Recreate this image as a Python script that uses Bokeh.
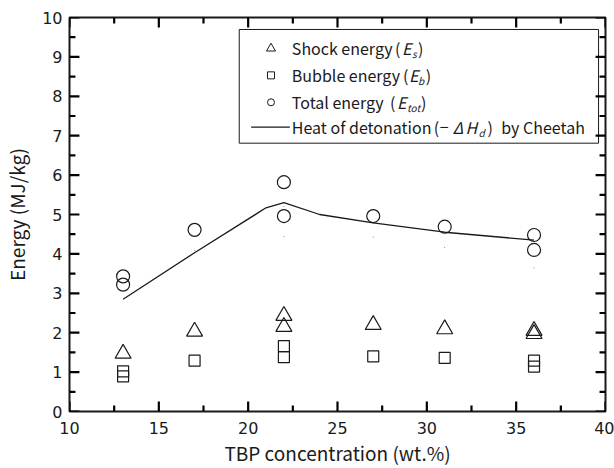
from bokeh.plotting import figure
from bokeh.models import Range1d, FixedTicker, LinearAxis, Label
from bokeh.embed import file_html
from bokeh.resources import INLINE

# ---- data ----
x_shock = [13, 17, 22, 22, 27, 31, 36, 36]
y_shock = [1.47, 2.03, 2.43, 2.15, 2.20, 2.09, 2.05, 1.97]
x_bubble = [13, 13, 17, 22, 22, 27, 31, 36, 36]
y_bubble = [1.02, 0.89, 1.29, 1.66, 1.38, 1.40, 1.36, 1.29, 1.14]
x_total = [13, 13, 17, 22, 22, 27, 31, 36, 36]
y_total = [3.43, 3.22, 4.61, 5.82, 4.96, 4.96, 4.69, 4.48, 4.10]
x_heat = [13, 17, 21, 22, 24, 27, 31, 36]
y_heat = [2.85, 4.03, 5.17, 5.30, 5.00, 4.79, 4.55, 4.35]
x_dot = [17, 22, 22, 27, 31, 36]
y_dot = [4.09, 5.20, 4.44, 4.43, 4.16, 3.65]
x_ticks = [10, 15, 20, 25, 30, 35, 40]
y_ticks = [0, 1, 2, 3, 4, 5, 6, 7, 8, 9, 10]
x_label = "TBP concentration (wt.%)"
y_label = "Energy (MJ/kg)"

FONT = "Noto Sans CJK JP"
NUMFONT = "DejaVu Sans"
INK = "#1a1a1a"
TICK = "black"

W, H = 614, 468
L, R, T, B = 65, 9, 17, 56
X0, X1, Y0, Y1 = 10, 40, 0, 10

p = figure(width=W, height=H, output_backend="svg", toolbar_location=None,
           x_range=Range1d(X0, X1), y_range=Range1d(Y0, Y1),
           min_border_left=L, min_border_right=R, min_border_top=T, min_border_bottom=B,
           x_axis_location=None, y_axis_location=None)
p.grid.visible = False
p.outline_line_color = INK
p.outline_line_width = 2
p.background_fill_color = "white"
p.border_fill_color = "white"

fw = W - L - R
fh = H - T - B
def dx(px):
    return X0 + (px - L) / fw * (X1 - X0)
def dy(py):
    return Y1 - (py - T) / fh * (Y1 - Y0)

x_minor = [v + 2.5 for v in x_ticks[:-1]]
y_minor = [v + 0.5 for v in y_ticks[:-1]]

def style(ax):
    ax.axis_line_color = None
    ax.major_tick_line_color = None
    ax.minor_tick_line_color = None
    ax.major_tick_in = 0
    ax.major_tick_out = 0
    ax.minor_tick_in = 0
    ax.minor_tick_out = 0
    ax.major_label_text_font = NUMFONT
    ax.major_label_text_font_size = "16px"
    ax.major_label_text_color = INK
    ax.axis_label_text_font = FONT
    ax.axis_label_text_font_size = "19px"
    ax.axis_label_text_font_style = "normal"
    ax.axis_label_text_color = INK

bx = LinearAxis(ticker=FixedTicker(ticks=x_ticks), axis_label=x_label)
style(bx); bx.major_label_standoff = 10; bx.axis_label_standoff = 2
ly = LinearAxis(ticker=FixedTicker(ticks=y_ticks), axis_label=y_label)
style(ly); ly.major_label_standoff = 7; ly.axis_label_standoff = 9
p.add_layout(bx, "below")
p.add_layout(ly, "left")

# ---- legend box (drawn first so markers sit on top) ----
p.quad(left=[dx(236)], right=[dx(598)], top=[dy(29)], bottom=[dy(143)],
       fill_color="white", line_color=INK, line_width=1)

# ---- inward ticks on all four sides ----
hM, hm = 10 / fw * (X1 - X0), 6 / fw * (X1 - X0)
vM, vm = 10 / fh * (Y1 - Y0), 6 / fh * (Y1 - Y0)
for ticks, tl in ((x_ticks, vM), (x_minor, vm)):
    p.segment(x0=ticks, y0=[Y0] * len(ticks), x1=ticks, y1=[Y0 + tl] * len(ticks),
              line_color=TICK, line_width=2.2)
    p.segment(x0=ticks, y0=[Y1] * len(ticks), x1=ticks, y1=[Y1 - tl] * len(ticks),
              line_color=TICK, line_width=2.2)
for ticks, tl in ((y_ticks, hM), (y_minor, hm)):
    p.segment(x0=[X0] * len(ticks), y0=ticks, x1=[X0 + tl] * len(ticks), y1=ticks,
              line_color=TICK, line_width=2.2)
    p.segment(x0=[X1] * len(ticks), y0=ticks, x1=[X1 - tl] * len(ticks), y1=ticks,
              line_color=TICK, line_width=2.2)

# ---- data marks ----
p.line(x_heat, y_heat, line_color=INK, line_width=1.3)
p.scatter(x_dot, y_dot, marker="dot", size=4, color="#777777")
p.scatter(x_total, y_total, marker="circle", size=13, fill_color=None,
          line_color=INK, line_width=1.2)
p.scatter(x_shock, y_shock, marker="triangle", size=16, fill_color=None,
          line_color=INK, line_width=1.2)
p.scatter(x_bubble, y_bubble, marker="square", size=11, fill_color=None,
          line_color=INK, line_width=1.2)

# ---- legend entries (hand-built) ----
rows = [dy(48), dy(75), dy(102), dy(127)]
mx = dx(268)
p.scatter([mx], [rows[0]], marker="triangle", size=9, fill_color=None, line_color=INK, line_width=1)
p.scatter([mx], [rows[1]], marker="square", size=7, fill_color=None, line_color=INK, line_width=1)
p.scatter([mx], [rows[2]], marker="circle", size=7, fill_color=None, line_color=INK, line_width=1)
p.line([dx(248), dx(287)], [rows[3], rows[3]], line_color=INK, line_width=1.2)

pieces = [
    ("Shock energy", 289, 0, "normal", "n"), ("(", 393, 0, "normal", "n"),
    ("E", 400, 0, "italic", "n"), ("s", 410, 0, "italic", "sub"), (")", 416, 0, "normal", "n"),
    ("Bubble energy", 289, 1, "normal", "n"), ("(", 401, 1, "normal", "n"),
    ("E", 407, 1, "italic", "n"), ("b", 416, 1, "italic", "sub"), (")", 424, 1, "normal", "n"),
    ("Total energy", 289, 2, "normal", "n"), ("(", 388, 2, "normal", "n"),
    ("E", 395, 2, "italic", "n"), ("tot", 405, 2, "italic", "sub"), (")", 419, 2, "normal", "n"),
    ("Heat of detonation", 289, 3, "normal", "n"), ("(", 432, 3, "normal", "n"),
    ("\u2212", 438, 3, "normal", "n"), ("\u0394", 451, 3, "italic", "n"),
    ("H", 464, 3, "italic", "n"), ("d", 477, 3, "italic", "sub"), (")", 486, 3, "normal", "n"),
    ("by Cheetah", 500, 3, "normal", "n"),
]
for txt, px, r, st, kind in pieces:
    yy = rows[r]
    size = "16px"
    if kind == "sub":
        yy = rows[r] - 5 / fh * (Y1 - Y0)
        size = "10px"
    p.add_layout(Label(x=dx(px), y=yy, text=txt, text_font=FONT, text_font_size=size,
                       text_font_style=st, text_color=INK, text_baseline="middle",
                       text_align="left"))

open("out.html", "w").write(file_html(p, INLINE))
